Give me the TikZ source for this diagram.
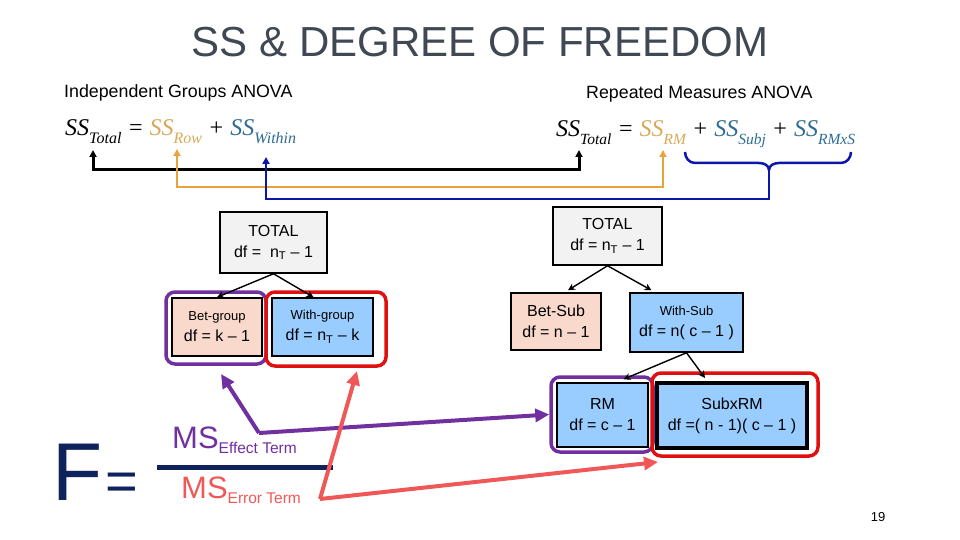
\documentclass[tikz,border=0pt]{standalone}
\usepackage{fontspec}
\setmainfont{Liberation Sans}
\newfontfamily\serifeq{Liberation Serif}
\usetikzlibrary{arrows.meta,calc}
\definecolor{titlegray}{RGB}{64,72,84}
\definecolor{navyF}{RGB}{14,34,92}
\definecolor{goldtxt}{RGB}{214,170,90}
\definecolor{goldline}{RGB}{232,163,60}
\definecolor{tealtxt}{RGB}{46,108,148}
\definecolor{blueline}{RGB}{12,22,168}
\definecolor{purp}{RGB}{112,48,160}
\definecolor{redout}{RGB}{222,16,16}
\definecolor{salmon}{RGB}{240,88,88}
\definecolor{peach}{RGB}{248,217,204}
\definecolor{lblue}{RGB}{153,204,255}
\definecolor{lgray}{RGB}{242,242,242}
\newcommand{\sbs}[2]{\raisebox{-0.3em}{\fontsize{#1}{#1}\selectfont #2}}
\newcommand{\eqf}{\serifeq\itshape\fontsize{24}{24}\selectfont}
\newcommand{\bigtxt}{\fontsize{16}{21}\selectfont}
\newcommand{\smtxt}{\fontsize{13}{17}\selectfont}
\tikzset{
  dfbox/.style={draw=black, line width=1.5pt, inner sep=0pt, align=center, font=\bigtxt},
  outl/.style={rounded corners=9pt, line width=3.5pt, inner sep=0pt},
  treearrow/.style={line width=1.4pt, -{Stealth[length=7pt,width=7pt]}},
  bracketline/.style={line width=#1, {Triangle[length=7pt,width=7pt]}-{Triangle[length=7pt,width=7pt]}},
  fatarrow/.style={line width=4pt, -{Triangle[length=14pt,width=13pt]}},
  heading/.style={anchor=base west, font=\fontsize{17.8}{20}\selectfont, inner sep=0},
}
\begin{document}
\begin{tikzpicture}[x=1pt,y=-1pt]
\useasboundingbox (0,0) rectangle (960,540);

% title
\node[anchor=base, text=titlegray, font=\fontsize{42}{42}\selectfont, inner sep=0] (title) at (480,57) {SS \& DEGREE OF FREEDOM};

% headings
\node[heading] (indep) at (64,98) {Independent Groups ANOVA};
\node[heading] (repm) at (586,99) {Repeated Measures ANOVA};

% equations
\node[anchor=base west, inner sep=0] (eqL) at (65,136)
  {\eqf SS\sbs{16}{Total} = {\color{goldtxt}SS\sbs{16}{Row}} + {\color{tealtxt}SS\sbs{16}{Within}}};
\node[anchor=base west, inner sep=0] (eqR) at (556,137)
  {\eqf SS\sbs{15.5}{Total} = {\color{goldtxt}SS\sbs{15.5}{RM}} + {\color{tealtxt}SS\sbs{15.5}{Subj}} + {\color{tealtxt}SS\sbs{15.5}{RMxS}}};

% bracket connectors
\coordinate (kL) at (93,150);
\coordinate (kR) at (579,150);
\coordinate (oL) at (177,149);
\coordinate (oR) at (663,150);
\coordinate (bL) at (266,157);
\coordinate (bR) at (769,168);
\draw[bracketline=3pt, black] (kL) -- ++(0,20) -| (kR);
\draw[bracketline=2.5pt, goldline] (oL) -- ++(0,38) -| (oR);
\draw[line width=2.5pt, blueline, {Triangle[length=7pt,width=7pt]}-] (bL) -- ++(0,42) -| (bR);
% brace
\draw[line width=2.5pt, blueline] (685,152) to[out=-90,in=180] (695,163) -- (759,163)
  to[out=0,in=90] (769,170) to[out=90,in=180] (779,163) -- (841,163) to[out=0,in=-90] (851,152);

% left tree
\node[dfbox, fill=lgray, minimum width=107pt, minimum height=61pt] (ltot) at (273.5,242.5)
  {TOTAL\\df = \ n\textsubscript{T} – 1};
\node[outl, draw=purp, minimum width=100pt, minimum height=72pt] (lpo) at (216,328) {};
\node[outl, draw=redout, minimum width=120pt, minimum height=74pt] (lro) at (326,329) {};
\node[dfbox, fill=peach, minimum width=90pt, minimum height=58pt] (lbet) at (217,327)
  {{\smtxt Bet-group}\\df = k – 1};
\node[dfbox, fill=lblue, minimum width=101pt, minimum height=58pt] (lwith) at (322.5,327)
  {{\smtxt With-group}\\df = n\textsubscript{T} – k};
\draw[treearrow] (ltot.south) -- (lbet.north);
\draw[treearrow] (ltot.south) -- ($(lwith.north)+(-9,0)$);

% right tree
\node[dfbox, fill=lgray, minimum width=109pt, minimum height=58pt] (rtot) at (607.5,236)
  {TOTAL\\df = n\textsubscript{T} – 1};
\node[dfbox, fill=peach, minimum width=90pt, minimum height=57pt] (rbet) at (556,321.5)
  {Bet-Sub\\df = n – 1};
\node[dfbox, fill=lblue, minimum width=113pt, minimum height=59pt] (rwith) at (686.5,322.5)
  {{\smtxt With-Sub}\\df = n( c – 1 )};
\node[outl, draw=purp, minimum width=102pt, minimum height=75pt] (rmo) at (602,414.5) {};
\node[outl, draw=redout, minimum width=166pt, minimum height=83pt] (sro) at (735,414.5) {};
\node[dfbox, fill=lblue, minimum width=91pt, minimum height=64pt] (rm) at (602.5,415)
  {RM\\df = c – 1};
\node[dfbox, fill=lblue, line width=4pt, minimum width=150pt, minimum height=65pt] (sxr) at (732,415.5)
  {SubxRM\\df =( n - 1)( c – 1 )};
\draw[treearrow] (rtot.south) -- ($(rbet.north)+(12,-2)$);
\draw[treearrow] (rtot.south) -- ($(rwith.north)+(-35,-2)$);
\draw[treearrow] (rwith.south) -- ($(rm.north)+(21,-3)$);
\draw[treearrow] (rwith.south) -- ($(sxr.north)+(-27,-3)$);

% F = MS/MS
\node[anchor=base west, text=navyF, font=\fontsize{82}{82}\selectfont, inner sep=0] (F) at (52,500) {F};
\node[anchor=base west, text=navyF, font=\fontsize{56}{56}\selectfont, inner sep=0] (eq) at (105,500) {=};
\coordinate (fracL) at (157,467);
\coordinate (fracR) at (333,467);
\draw[navyF, line width=5pt] (fracL) -- (fracR);
\node[anchor=base west, text=purp, inner sep=0] (mse) at (172,448)
  {\fontsize{31}{31}\selectfont MS\raisebox{-5pt}{\fontsize{15.5}{15.5}\selectfont Effect Term}};
\node[anchor=base west, text=salmon, inner sep=0] (msr) at (181,498)
  {\fontsize{31}{31}\selectfont MS\raisebox{-5pt}{\fontsize{15.5}{15.5}\selectfont Error Term}};

% effect arrows
\coordinate (pv) at (259,433);
\coordinate (pvA) at (221,374);
\draw[fatarrow, purp] (pv) -- (pvA);
\draw[fatarrow, purp] (pv) -- (rmo.west);
% error arrows
\coordinate (rv) at (320,499);
\coordinate (rvA) at (357,371);
\coordinate (rvB) at (658,462);
\draw[fatarrow, salmon] (rv) -- (rvA);
\draw[fatarrow, salmon] (rv) -- (rvB);

% page number
\node[anchor=base, font=\fontsize{13}{13}\selectfont, inner sep=0] (pg) at (878,521) {19};
\end{tikzpicture}
\end{document}
